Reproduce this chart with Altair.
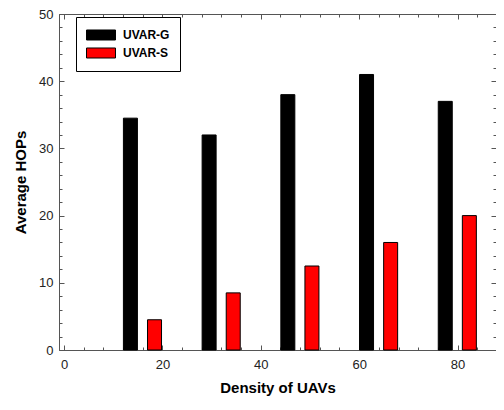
import altair as alt
import pandas as pd

series_names = ["UVAR-G", "UVAR-S"]
density_g = [13.5, 29.5, 45.5, 61.5, 77.5]
hops_g = [34.5, 32, 38, 41, 37]
density_s = [18.4, 34.4, 50.4, 66.4, 82.4]
hops_s = [4.5, 8.5, 12.5, 16, 20]
x_labels = [0, 20, 40, 60, 80]
x_minor = list(range(0, 87, 4))
y_labels = [0, 10, 20, 30, 40, 50]
y_minor = list(range(0, 51, 2))
bar_colors = ["#000000", "#ff0000"]

df = pd.DataFrame({
    "series": [series_names[0]] * len(density_g) + [series_names[1]] * len(density_s),
    "density": density_g + density_s,
    "hops": hops_g + hops_s,
})

W, H = 437, 336
xs = alt.Scale(domain=[0, 86.8], nice=False, zero=False)
ys = alt.Scale(domain=[0, 50], nice=False)
FONT = "Liberation Sans"
AX = "#555555"

legend_path = "M-1.933,-0.667H1.933V0.667H-1.933Z"

bars = alt.Chart(df).mark_bar(size=14, stroke="black", strokeWidth=1).encode(
    x=alt.X("density:Q", scale=xs, axis=alt.Axis(
        orient="bottom", values=x_labels, ticks=False, grid=False, domain=True,
        domainColor=AX, labelFont=FONT, labelFontSize=13, labelColor="#222222",
        labelPadding=8, title="Density of UAVs", titleFont=FONT, titleFontSize=15,
        titleFontWeight="bold", titleColor="black", titlePadding=9)),
    y=alt.Y("hops:Q", scale=ys, axis=alt.Axis(
        orient="left", values=y_labels, ticks=False, grid=False, domain=True,
        domainColor=AX, labelFont=FONT, labelFontSize=13, labelColor="#222222",
        labelPadding=6, title="Average HOPs", titleFont=FONT, titleFontSize=15,
        titleFontWeight="bold", titleColor="black", titlePadding=10)),
    color=alt.Color("series:N", scale=alt.Scale(domain=series_names, range=bar_colors),
                    legend=alt.Legend(
                        orient="none", legendX=17, legendY=3, title=None,
                        strokeColor="black", fillColor="white", padding=10,
                        symbolType=legend_path, symbolSize=225,
                        symbolStrokeColor="black", symbolStrokeWidth=1,
                        symbolOffset=7, labelOffset=14, rowPadding=2,
                        labelFont=FONT, labelFontSize=12, labelFontWeight="bold",
                        labelColor="black")),
)


def tick_layer(x_orient, y_orient, xvals, yvals, size, x_domain=False):
    return alt.Chart(df).mark_point(opacity=0).encode(
        x=alt.X("density:Q", scale=xs, axis=alt.Axis(
            orient=x_orient, offset=-H, values=xvals, labels=False, tickSize=size,
            tickColor=AX, domain=x_domain, domainColor=AX, grid=False, title=None)),
        y=alt.Y("hops:Q", scale=ys, axis=alt.Axis(
            orient=y_orient, offset=-W, values=yvals, labels=False, tickSize=size,
            tickColor=AX, domain=False, grid=False, title=None)),
    )


chart = alt.layer(
    bars,
    tick_layer("top", "right", x_minor, y_minor, 3),
    tick_layer("bottom", "left", x_minor, y_minor, 3, x_domain=True),
    tick_layer("top", "right", x_labels, y_labels, 5),
    tick_layer("bottom", "left", x_labels, y_labels, 5),
).resolve_axis(x="independent", y="independent").properties(
    width=W, height=H,
    autosize=alt.AutoSizeParams(type="none"),
    padding={"left": 51, "top": 6, "right": 0, "bottom": 47},
).configure_view(stroke=None)

chart.save("out.html", embed_options={"renderer": "svg", "actions": False})
